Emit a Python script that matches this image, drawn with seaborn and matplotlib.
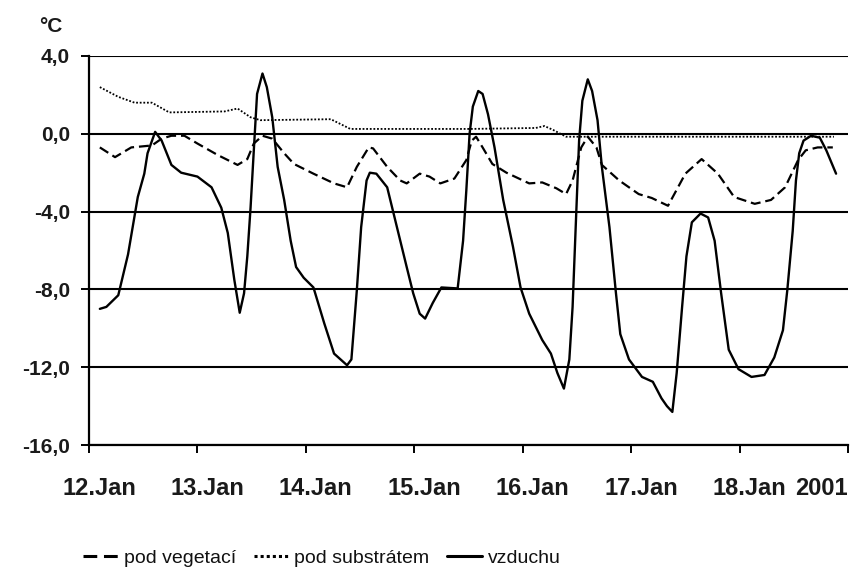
import matplotlib
matplotlib.use("Agg")
import matplotlib.pyplot as plt
import matplotlib.transforms as mtransforms
import seaborn as sns

# ---- data (days since 12.Jan 2001, 0:00) ----
day_air = [0.10, 0.16, 0.27, 0.36, 0.45, 0.51, 0.54, 0.61, 0.67, 0.76, 0.85, 1.00, 1.13, 1.22,
           1.28, 1.34, 1.39, 1.43, 1.46, 1.49, 1.52, 1.55, 1.60, 1.64, 1.69, 1.74, 1.80, 1.86,
           1.91, 1.98, 2.07, 2.17, 2.26, 2.38, 2.42, 2.47, 2.51, 2.56, 2.59, 2.65, 2.75, 2.84,
           2.93, 2.99, 3.05, 3.10, 3.17, 3.25, 3.40, 3.45, 3.48, 3.51, 3.54, 3.59, 3.63, 3.68,
           3.74, 3.82, 3.91, 3.98, 4.06, 4.18, 4.26, 4.32, 4.38, 4.43, 4.46, 4.49, 4.52, 4.55,
           4.60, 4.64, 4.69, 4.73, 4.80, 4.86, 4.90, 4.98, 5.10, 5.20, 5.28, 5.33, 5.38, 5.42,
           5.47, 5.51, 5.56, 5.64, 5.71, 5.77, 5.83, 5.90, 5.99, 6.11, 6.23, 6.32, 6.40, 6.44,
           6.49, 6.52, 6.55, 6.59, 6.66, 6.74, 6.80, 6.89]
t_air = [-9.0, -8.9, -8.3, -6.2, -3.25, -2.05, -1.0, 0.1, -0.35, -1.6, -2.0, -2.2, -2.75, -3.8,
         -5.1, -7.5, -9.2, -8.2, -6.3, -3.8, -0.85, 2.05, 3.1, 2.4, 0.85, -1.7, -3.4, -5.5,
         -6.85, -7.4, -7.9, -9.75, -11.3, -11.9, -11.6, -8.05, -4.8, -2.4, -2.0, -2.05, -2.75, -4.8,
         -6.85, -8.2, -9.25, -9.5, -8.7, -7.9, -7.95, -5.5, -2.9, 0.0, 1.4, 2.2, 2.05, 1.0,
         -0.7, -3.4, -5.8, -7.9, -9.25, -10.6, -11.3, -12.3, -13.1, -11.6, -8.9, -4.6, -0.35, 1.7,
         2.8, 2.2, 0.7, -1.7, -4.8, -8.2, -10.3, -11.6, -12.5, -12.75, -13.6, -14.0, -14.3, -12.3,
         -8.9, -6.3, -4.55, -4.1, -4.3, -5.5, -8.2, -11.1, -12.1, -12.5, -12.4, -11.5, -10.1, -8.05,
         -5.0, -2.4, -1.0, -0.35, -0.1, -0.2, -0.85, -2.05]

day_veg = [0.10, 0.24, 0.39, 0.58, 0.67, 0.76, 0.88, 1.00, 1.19, 1.37, 1.46, 1.52, 1.60, 1.69,
           1.80, 1.89, 2.07, 2.26, 2.38, 2.47, 2.58, 2.62, 2.75, 2.87, 2.93, 3.05, 3.14, 3.24,
           3.37, 3.48, 3.53, 3.57, 3.63, 3.72, 3.85, 4.06, 4.18, 4.31, 4.40, 4.46, 4.54, 4.60,
           4.68, 4.73, 4.89, 5.07, 5.19, 5.34, 5.50, 5.65, 5.80, 5.95, 6.14, 6.29, 6.42, 6.54,
           6.61, 6.72, 6.86]
t_veg = [-0.7, -1.2, -0.7, -0.6, -0.25, -0.1, -0.1, -0.5, -1.1, -1.6, -1.3, -0.5, -0.1, -0.25,
         -1.0, -1.55, -2.05, -2.55, -2.75, -1.7, -0.7, -0.75, -1.7, -2.4, -2.55, -2.05, -2.2, -2.55,
         -2.3, -1.35, -0.35, -0.15, -0.7, -1.55, -2.0, -2.55, -2.5, -2.8, -3.1, -2.4, -0.7, -0.15,
         -0.7, -1.6, -2.4, -3.1, -3.3, -3.7, -2.05, -1.3, -2.05, -3.25, -3.6, -3.4, -2.75, -1.35,
         -0.85, -0.7, -0.7]

day_sub = [0.10, 0.27, 0.42, 0.58, 0.74, 1.25, 1.37, 1.49, 1.58, 2.23, 2.41, 3.51, 4.12, 4.20,
           4.28, 4.40, 6.87]
t_sub = [2.4, 1.9, 1.6, 1.6, 1.1, 1.15, 1.3, 0.85, 0.7, 0.75, 0.25, 0.25, 0.3, 0.4,
         0.2, -0.15, -0.15]

x_ticks = [0, 1, 2, 3, 4, 5, 6, 7]
x_labels = ["12.Jan", "13.Jan", "14.Jan", "15.Jan", "16.Jan", "17.Jan", "18.Jan", "2001"]
y_ticks = [4, 0, -4, -8, -12, -16]
y_labels = ["4,0", "0,0", "-4,0", "-8,0", "-12,0", "-16,0"]
series_names = ["pod vegetací", "pod substrátem", "vzduchu"]

# ---- styling ----
sns.set_theme(style="white")
plt.rcParams['font.family'] = ['Liberation Sans', 'DejaVu Sans']

fig = plt.figure(figsize=(8.53, 5.70), dpi=100)
ax = fig.add_axes([89 / 853, 1 - 445 / 570, (848 - 89) / 853, (445 - 56) / 570])

sns.lineplot(x=day_veg, y=t_veg, ax=ax, color="black", lw=1.6, linestyle=(0, (4.5, 2.2)),
             estimator=None, sort=False, label=series_names[0])
sns.lineplot(x=day_sub, y=t_sub, ax=ax, color="black", lw=1.3, linestyle=(0, (1, 1)),
             estimator=None, sort=False, label=series_names[1])
sns.lineplot(x=day_air, y=t_air, ax=ax, color="black", lw=1.7, linestyle="-",
             estimator=None, sort=False, label=series_names[2])

ax.set_xlim(0, 7)
ax.set_ylim(-16, 4)
ax.set_yticks(y_ticks)
ax.set_yticklabels(y_labels, fontsize=15, fontweight="bold")
ax.set_xticks(x_ticks)
ax.set_xticklabels(x_labels, fontsize=17, fontweight="bold")
ax.set_xlabel("")
ax.set_ylabel("")

ax.grid(False)
for yv in y_ticks:
    ax.axhline(yv, color="black", lw=1.5, zorder=0.5)

for s in ["top", "right"]:
    ax.spines[s].set_visible(False)
for s in ["left", "bottom"]:
    ax.spines[s].set_color("black")
    ax.spines[s].set_linewidth(1.6)

ax.tick_params(axis="y", direction="out", length=5.5, width=1.4, color="black",
               pad=8, left=True, labelcolor="#1a1a1a")
ax.tick_params(axis="x", direction="out", length=6, width=1.4, color="black",
               pad=17, bottom=True, labelcolor="#1a1a1a")

offset = mtransforms.ScaledTranslation(10 / 100, 0, fig.dpi_scale_trans)
xtl = ax.get_xticklabels()
for lab in xtl[:-1]:
    lab.set_transform(lab.get_transform() + offset)
xtl[-1].set_horizontalalignment("right")

fig.text(51 / 853, 1 - 27 / 570, "°C", fontsize=15, fontweight="bold",
         ha="center", va="center", color="#1a1a1a")

leg = ax.legend(loc="center left", bbox_to_anchor=(83 / 853, 1 - 558 / 570),
                bbox_transform=fig.transFigure, ncol=3, frameon=False, fontsize=14,
                handlelength=1.8, handletextpad=0.3, columnspacing=0.9, borderpad=0,
                borderaxespad=0)
for h in leg.get_lines():
    h.set_linewidth(2.2)
for t in leg.get_texts():
    t.set_color("#111111")

fig.savefig("out.png", dpi=100)
